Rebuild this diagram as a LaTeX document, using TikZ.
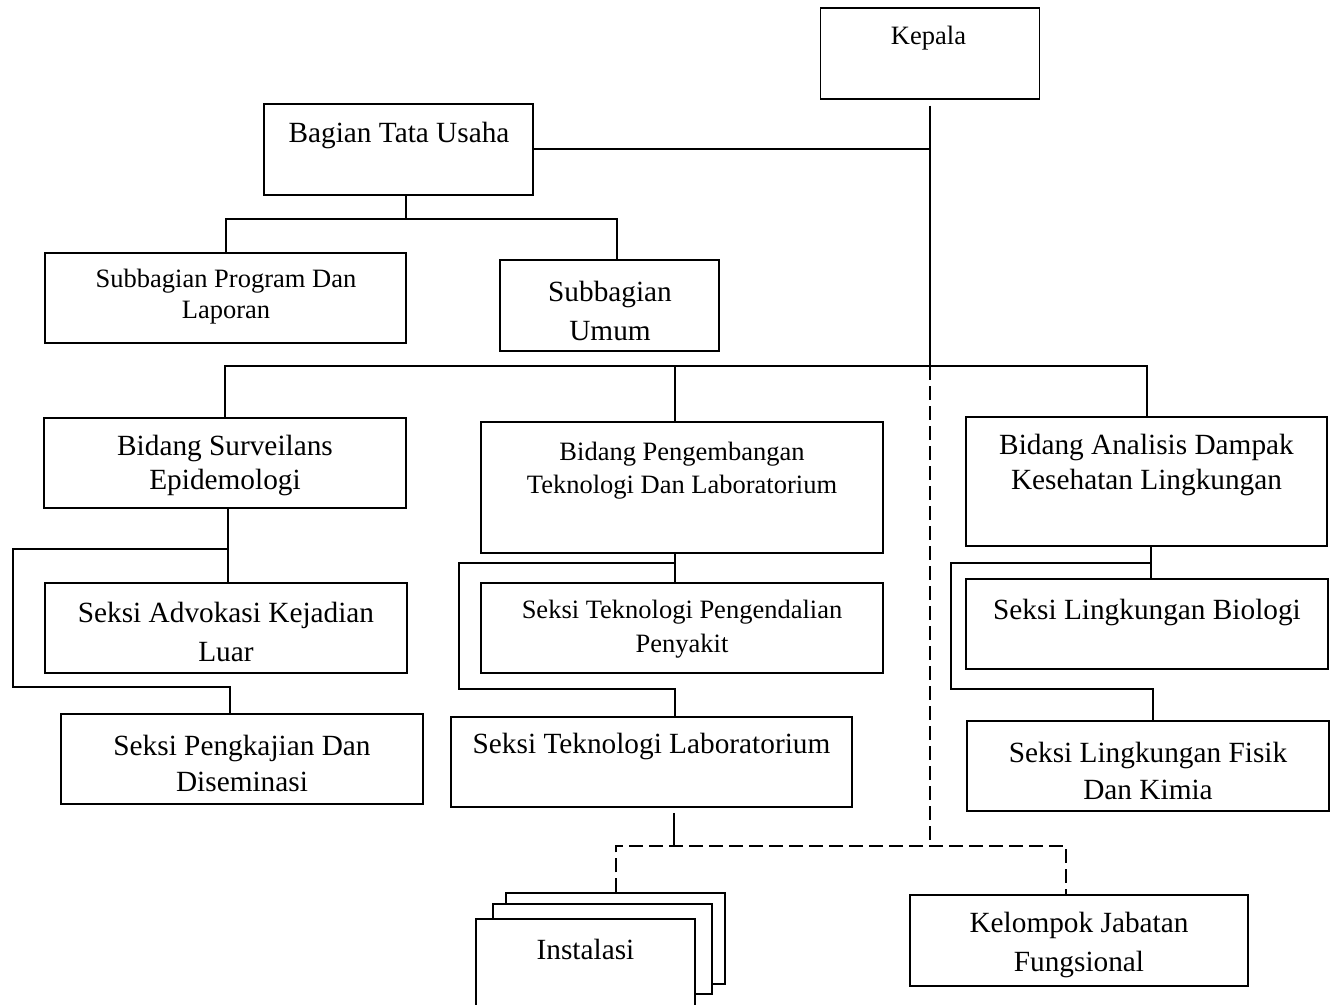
\documentclass[tikz,border=0pt]{standalone}
\usepackage{fontspec}
\setmainfont{Liberation Serif}
\begin{document}
\begin{tikzpicture}[x=0.5pt,y=-0.5pt,
  box/.style={draw, line width=0.75pt, inner sep=0pt, fill=white},
  conn/.style={line width=1pt},
  dconn/.style={line width=1pt, dash pattern=on 7pt off 3pt},
  big/.style={font=\fontsize{14.65pt}{19pt}\selectfont, align=center, inner sep=0pt, yshift=-1.25pt},
  small/.style={font=\fontsize{13.25pt}{15.5pt}\selectfont, align=center, inner sep=0pt, yshift=-1.25pt}]
\useasboundingbox (0,0) rectangle (1332,1005);

% boxes
\node[box, minimum width=109.5pt, minimum height=45.5pt] (kepala) at (930,53.5) {};
\node[box, minimum width=134.5pt, minimum height=45.5pt] (tu) at (398.5,149.5) {};
\node[box, minimum width=180.5pt, minimum height=45pt] (sp) at (225.5,298) {};
\node[box, minimum width=109.5pt, minimum height=45.5pt] (su) at (609.5,305.5) {};
\node[box, minimum width=181pt, minimum height=45pt] (bs) at (225,463) {};
\node[box, minimum width=201pt, minimum height=65.5pt] (bp) at (682,487.5) {};
\node[box, minimum width=180.5pt, minimum height=64.5pt] (ba) at (1146.5,481.5) {};
\node[box, minimum width=181pt, minimum height=45pt] (sa) at (226,628) {};
\node[box, minimum width=181pt, minimum height=45pt] (sk) at (242,759) {};
\node[box, minimum width=201pt, minimum height=45pt] (stp) at (682,628) {};
\node[box, minimum width=200.5pt, minimum height=45pt] (stl) at (651.5,762) {};
\node[box, minimum width=181pt, minimum height=45pt] (slb) at (1147,624) {};
\node[box, minimum width=181pt, minimum height=45pt] (slf) at (1148,766) {};
\node[box, minimum width=109.5pt, minimum height=45.5pt] (inst3) at (615.5,938.5) {};
\node[box, minimum width=109.5pt, minimum height=45pt] (inst2) at (602.5,949) {};
\node[box, minimum width=109.5pt, minimum height=45.5pt] (inst1) at (585.5,964.5) {};
\node[box, minimum width=169pt, minimum height=45.5pt] (kjf) at (1079,940.5) {};

% labels
\node[small] (lkepala) at (928.5,36) {Kepala};
\node[big] (ltu) at (399,133) {Bagian Tata Usaha};
\node[small] (lsp) at (226,294.5) {Subbagian Program Dan\\Laporan};
\node[big, font=\fontsize{14.65pt}{19.5pt}\selectfont] (lsu) at (610,308.5) {Subbagian\\Umum};
\node[big, font=\fontsize{14.65pt}{17pt}\selectfont] (lbs) at (225,463) {Bidang Surveilans\\Epidemologi};
\node[small, font=\fontsize{13.25pt}{16.5pt}\selectfont] (lbp) at (682,468) {Bidang Pengembangan\\Teknologi Dan Laboratorium};
\node[big, font=\fontsize{14.65pt}{17.5pt}\selectfont] (lba) at (1146.5,462.5) {Bidang Analisis Dampak\\Kesehatan Lingkungan};
\node[big, font=\fontsize{14.65pt}{19.5pt}\selectfont] (lsa) at (226,629.5) {Seksi Advokasi Kejadian\\Luar};
\node[big, font=\fontsize{14.65pt}{18pt}\selectfont] (lsk) at (242,761) {Seksi Pengkajian Dan\\Diseminasi};
\node[small, font=\fontsize{13.25pt}{17pt}\selectfont] (lstp) at (682,627) {Seksi Teknologi Pengendalian\\Penyakit};
\node[big] (lstl) at (651.5,744) {Seksi Teknologi Laboratorium};
\node[big] (lslb) at (1147,610) {Seksi Lingkungan Biologi};
\node[big, font=\fontsize{14.65pt}{18.5pt}\selectfont] (lslf) at (1148,768.5) {Seksi Lingkungan Fisik\\Dan Kimia};
\node[big] (linst) at (585.5,947) {Instalasi};
\node[big, font=\fontsize{14.65pt}{19.5pt}\selectfont] (lkjf) at (1079,942.5) {Kelompok Jabatan\\Fungsional};

% junction coordinates
\coordinate (tub) at (406,219);
\coordinate (bus) at (930,366);
\coordinate (dbus) at (674,846);
\coordinate (la) at (13,549);
\coordinate (lb) at (13,687);
\coordinate (lx) at (228,549);
\coordinate (mx) at (675,563);
\coordinate (ma) at (459,563);
\coordinate (mb) at (459,689);
\coordinate (rx) at (1151,563);
\coordinate (ra) at (951,563);
\coordinate (rb) at (951,689);

% top connectors
\draw[conn] ([yshift=-3pt]kepala.south) -- (bus);
\draw[conn] (tu.east) -- (tu.east -| kepala.south);
\draw[conn] (tu.south -| tub) -- (tub);
\draw[conn] (sp.north) |- (tub) -| ([xshift=3.75pt]su.north);
\draw[conn] (bs.north) |- (bus) -| (ba.north);
\draw[conn] ([xshift=-3.5pt]bp.north) -- ([xshift=-3.5pt]bp.north |- bus);

% left column
\draw[conn] (bs.south -| lx) -- (sa.north -| lx);
\draw[conn] (lx) -- (la) -- (lb) -| ([xshift=-6pt]sk.north);

% middle column
\draw[conn] (bp.south -| mx) -- (stp.north -| mx);
\draw[conn] (mx) -- (ma) -- (mb) -| (stl.north -| mx);

% right column
\draw[conn] (ba.south -| rx) -- (slb.north -| rx);
\draw[conn] (rx) -- (ra) -- (rb) -| ([xshift=2.5pt]slf.north);

% dashed part
\draw[conn] ([yshift=-2.5pt]stl.south -| dbus) -- (dbus);
\draw[dconn] (bus) -- (bus |- dbus);
\draw[dconn] (inst3.north) |- (dbus) -| ([xshift=-6.5pt]kjf.north);
\end{tikzpicture}
\end{document}
